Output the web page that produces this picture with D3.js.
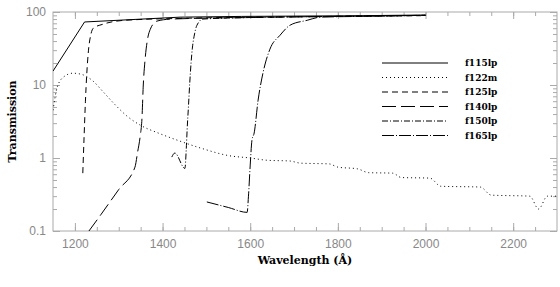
<!DOCTYPE html>
<html>
<head>
<meta charset="utf-8">
<script src="https://cdn.jsdelivr.net/npm/d3@7"></script>
<style>body{margin:0;background:#fff;}</style>
</head>
<body>
<script>
// filter names
let filters = ['f115lp', 'f122m', 'f125lp', 'f140lp', 'f150lp', 'f165lp'];

// wavelength (A) / transmission (%)
let f115lpWave  = [1150, 1222, 1440, 1580, 1850, 2000];
let f115lpTrans = [15.5, 73, 85, 87, 89, 91];

let f122mWave  = [1150, 1160, 1175, 1195, 1215, 1240, 1265, 1290, 1320, 1350, 1390, 1440, 1490, 1550, 1600, 1640,
                  1690, 1715, 1780, 1800, 1845, 1870, 1925, 1945, 2010, 2035, 2125, 2150, 2238, 2258, 2278, 2300];
let f122mTrans = [4.5, 9.5, 13, 14.5, 14, 11.5, 8, 5.5, 3.7, 2.8, 2.2, 1.7, 1.35, 1.08, 1.0, 0.93,
                  0.91, 0.85, 0.83, 0.75, 0.71, 0.63, 0.62, 0.54, 0.53, 0.41, 0.40, 0.31, 0.30, 0.20, 0.30, 0.30];

let f125lpWave  = [1218, 1221, 1224, 1227, 1231, 1236, 1242, 1264, 1314, 1450, 1700, 1990];
let f125lpTrans = [0.62, 2, 6, 14, 30, 48, 60, 68, 77, 82, 86, 89];

let f140lpWave  = [1232, 1260, 1300, 1337, 1343, 1349, 1353, 1356, 1360, 1365, 1372, 1387, 1420, 1600, 1800, 2000];
let f140lpTrans = [0.1, 0.17, 0.37, 0.75, 1.2, 2, 3.5, 10, 22, 40, 58, 75, 80, 84, 87, 90];

let f150lpWave  = [1421, 1428, 1451, 1454, 1456, 1459, 1462, 1465, 1468, 1473, 1478, 1492, 1600, 1800, 2000];
let f150lpTrans = [1.03, 1.17, 0.72, 1.3, 2.4, 5, 10.6, 20, 32, 50, 65, 80, 84, 87, 90];

let f165lpWave  = [1501, 1550, 1593, 1596, 1600, 1604, 1609, 1618, 1629, 1645, 1668, 1691, 1730, 1760, 1850, 2000];
let f165lpTrans = [0.25, 0.21, 0.18, 0.3, 0.8, 1.76, 2.2, 6.2, 14.5, 31, 48, 66, 77, 85, 87, 90];

// tick values
let xMajor = [1200, 1400, 1600, 1800, 2000, 2200];
let xMinor = d3.range(1200, 2300, 50);
let yMajor = [0.1, 1, 10, 100];
let yLabels = ['0.1', '1', '10', '100'];
let yMinor = [2, 3, 4, 5, 6, 7, 8, 9].flatMap(function (d) { return [d / 10, d, d * 10]; });

// svg size
let width = 560;
let height = 287;
let plot = {left: 53, right: 557, top: 12, bottom: 231};
let axisColor = '#aaa';
let titleFont = 'DejaVu Serif, serif';

let svg = d3.select('body')
    .append('svg')
    .attr('width', width)
    .attr('height', height);

let x = d3.scaleLinear().domain([1150, 2300]).range([plot.left, plot.right]);
let y = d3.scaleLog().domain([0.1, 100]).range([plot.bottom, plot.top]);

// axes, ticks drawn inward on all four sides
function styleAxis(g) {
    g.select('.domain').remove();
    g.selectAll('line').attr('stroke', axisColor);
    g.selectAll('text')
        .attr('fill', '#888')
        .attr('font-family', 'Liberation Sans, Arial, sans-serif')
        .attr('font-size', '12px');
}

svg.append('g').attr('transform', 'translate(0,' + plot.bottom + ')')
    .call(d3.axisBottom(x).tickValues(xMinor).tickSize(-4).tickFormat(''))
    .call(styleAxis);
svg.append('g').attr('transform', 'translate(0,' + plot.bottom + ')')
    .call(d3.axisBottom(x).tickValues(xMajor).tickSize(-8).tickPadding(8).tickFormat(d3.format('d')))
    .call(styleAxis);
svg.append('g').attr('transform', 'translate(0,' + plot.top + ')')
    .call(d3.axisTop(x).tickValues(xMinor).tickSize(-4).tickFormat(''))
    .call(styleAxis);
svg.append('g').attr('transform', 'translate(0,' + plot.top + ')')
    .call(d3.axisTop(x).tickValues(xMajor).tickSize(-7).tickFormat(''))
    .call(styleAxis);

svg.append('g').attr('transform', 'translate(' + plot.left + ',0)')
    .call(d3.axisLeft(y).tickValues(yMinor).tickSize(-4).tickFormat(''))
    .call(styleAxis);
svg.append('g').attr('transform', 'translate(' + plot.left + ',0)')
    .call(d3.axisLeft(y).tickValues(yMajor).tickSize(-7).tickPadding(7)
        .tickFormat(function (d, i) { return yLabels[i]; }))
    .call(styleAxis);
svg.append('g').attr('transform', 'translate(' + plot.right + ',0)')
    .call(d3.axisRight(y).tickValues(yMinor).tickSize(-4).tickFormat(''))
    .call(styleAxis);
svg.append('g').attr('transform', 'translate(' + plot.right + ',0)')
    .call(d3.axisRight(y).tickValues(yMajor).tickSize(-7).tickFormat(''))
    .call(styleAxis);

// frame
svg.append('rect')
    .attr('x', plot.left)
    .attr('y', plot.top)
    .attr('width', plot.right - plot.left)
    .attr('height', plot.bottom - plot.top)
    .attr('fill', 'none')
    .attr('stroke', axisColor);

svg.append('clipPath').attr('id', 'clip')
    .append('rect')
    .attr('x', plot.left)
    .attr('y', plot.top)
    .attr('width', plot.right - plot.left)
    .attr('height', plot.bottom - plot.top);

// curves
let series = [
    {wave: f115lpWave, trans: f115lpTrans},
    {wave: f122mWave, trans: f122mTrans},
    {wave: f125lpWave, trans: f125lpTrans},
    {wave: f140lpWave, trans: f140lpTrans},
    {wave: f150lpWave, trans: f150lpTrans},
    {wave: f165lpWave, trans: f165lpTrans}
];
let dashes = [null, '1,3', '6,4', '14,5', '6,2,1,2', '12,2,1,2'];

let line = d3.line()
    .x(function (d) { return x(d[0]); })
    .y(function (d) { return y(d[1]); });

svg.append('g')
    .attr('clip-path', 'url(#clip)')
    .selectAll('path')
    .data(series)
    .enter()
    .append('path')
    .attr('fill', 'none')
    .attr('stroke', '#000')
    .attr('stroke-width', 1)
    .attr('stroke-dasharray', function (d, i) { return dashes[i]; })
    .attr('d', function (d, i) {
        line.curve(i === 0 ? d3.curveLinear : d3.curveMonotoneX);
        return line(d.wave.map(function (w, j) { return [w, d.trans[j]]; }));
    });

// legend
let legend = svg.append('g')
    .selectAll('g')
    .data(filters)
    .enter()
    .append('g')
    .attr('transform', function (d, i) { return 'translate(382,' + (63 + i * 14.5) + ')'; });

legend.append('line')
    .attr('x1', 0)
    .attr('x2', 66)
    .attr('stroke', '#000')
    .attr('stroke-width', 1)
    .attr('stroke-dasharray', function (d, i) { return dashes[i]; });

legend.append('text')
    .attr('x', 83)
    .attr('dy', '0.35em')
    .attr('font-family', titleFont)
    .attr('font-weight', 'bold')
    .attr('font-size', '9px')
    .text(function (d) { return d; });

// axis titles
svg.append('text')
    .attr('x', (plot.left + plot.right) / 2)
    .attr('y', 264)
    .attr('text-anchor', 'middle')
    .attr('font-family', titleFont)
    .attr('font-weight', 'bold')
    .attr('font-size', '11px')
    .text('Wavelength (Å)');

svg.append('text')
    .attr('transform', 'translate(16,' + ((plot.top + plot.bottom) / 2) + ') rotate(-90)')
    .attr('text-anchor', 'middle')
    .attr('font-family', titleFont)
    .attr('font-weight', 'bold')
    .attr('font-size', '11px')
    .text('Transmission');
</script>
</body>
</html>
